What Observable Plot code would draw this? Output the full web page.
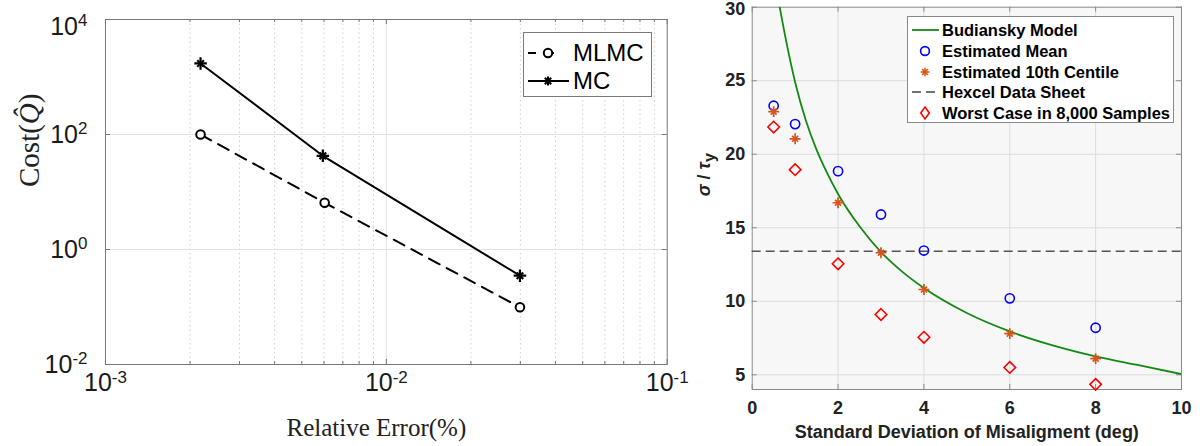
<!DOCTYPE html>
<html><head><meta charset="utf-8">
<script src="https://cdn.jsdelivr.net/npm/d3@7"></script>
<script src="https://cdn.jsdelivr.net/npm/@observablehq/plot@0.6"></script>
<style>
body{margin:0;background:#fff;}
#wrap{position:relative;width:1200px;height:446px;overflow:hidden;background:#fff;}
#left{position:absolute;left:0;top:0;}
#right{position:absolute;left:680px;top:0;}
.legend{position:absolute;background:#fff;box-sizing:border-box;}
.legend .row{position:absolute;left:0;display:flex;align-items:center;white-space:nowrap;}
#legL{font-family:"Liberation Sans",Arial,sans-serif;font-size:24px;color:#000;}
#legR{font-family:"Liberation Sans",Arial,sans-serif;font-size:16.5px;font-weight:bold;color:#000;}
</style></head><body>
<div id="wrap"><div id="left"></div><div id="right"></div>
<div class="legend" id="legL"></div><div class="legend" id="legR"></div></div>
<script>
// ---------- Left panel data ----------
const relErrMLMC = [0.00218, 0.00603, 0.0299];
const costMLMC   = [100, 6.5, 0.099];
const relErrMC   = [0.00218, 0.00594, 0.0299];
const costMC     = [1720, 42.6, 0.35];
const xTicksLeft = [1e-3, 1e-2, 1e-1];
const yTicksLeft = [1e-2, 1e0, 1e2, 1e4];
const xMinorLeft = [2e-3,3e-3,4e-3,5e-3,6e-3,7e-3,8e-3,9e-3,2e-2,3e-2,4e-2,5e-2,6e-2,7e-2,8e-2,9e-2];
const seriesLeft = ["MLMC", "MC"];

// ---------- Right panel data ----------
const misalign   = [0.5, 1, 2, 3, 4, 6, 8];
const estMean    = [23.3, 22.05, 18.85, 15.9, 13.45, 10.2, 8.2];
const est10th    = [22.9, 21.05, 16.7, 13.3, 10.8, 7.8, 6.1];
const worstCase  = [21.85, 18.95, 12.55, 9.1, 7.55, 5.5, 4.35];
const hexcel     = 13.4;
const budX = [0.64, 0.75, 1, 1.25, 1.5, 1.75, 2, 2.5, 3, 3.5, 4, 5, 6, 7, 8, 9, 10];
const budY = [30, 28.3, 24.9, 22.3, 20.3, 18.7, 17.3, 15.1, 13.35, 12.0, 10.9, 9.2, 7.95, 7.0, 6.25, 5.65, 5.05];
const xTicksRight = [0, 2, 4, 6, 8, 10];
const yTicksRight = [5, 10, 15, 20, 25, 30];
const seriesRight = ["Budiansky Model", "Estimated Mean", "Estimated 10th Centile", "Hexcel Data Sheet", "Worst Case in 8,000 Samples"];

// ---------- Build tables ----------
const mlmc = relErrMLMC.map((e, i) => ({err: e, cost: costMLMC[i]}));
const mc = relErrMC.map((e, i) => ({err: e, cost: costMC[i]}));
const meanPts = misalign.map((x, i) => ({x, y: estMean[i]}));
const c10Pts = misalign.map((x, i) => ({x, y: est10th[i]}));
const worstPts = misalign.map((x, i) => ({x, y: worstCase[i]}));
const bud = budX.map((x, i) => ({x, y: budY[i]}));

const GREEN = "#138a13", ORANGE = "#D95319", BLUE = "#0000ff", RED = "#ff0000";

// ---------- Left plot ----------
const LW = 680, LH = 446, LML = 105, LMR = 13.3, LMT = 19, LMB = 82;
const lph = LH - LMT - LMB, lpw = LW - LML - LMR;
const expFmt = d => "10^" + Math.round(Math.log10(d));
const leftPlot = Plot.plot({
  width: LW, height: LH,
  marginLeft: LML, marginRight: LMR, marginTop: LMT, marginBottom: LMB,
  style: {fontFamily: "'Liberation Sans', Arial, sans-serif", background: "transparent", overflow: "visible", color: "#222"},
  x: {type: "log", domain: [1e-3, 1e-1]},
  y: {type: "log", domain: [1e-2, 1e4]},
  marks: [
    Plot.ruleX(xMinorLeft, {stroke: "#c4c4c4", strokeDasharray: "1.5,3", strokeWidth: 0.8}),
    Plot.ruleX([1e-2], {stroke: "#e2e2e2"}),
    Plot.ruleY([1e0, 1e2], {stroke: "#e2e2e2"}),
    Plot.tickX(xMinorLeft, {x: d => d, insetBottom: lph - 3, stroke: "#777"}),
    Plot.tickX(xMinorLeft, {x: d => d, insetTop: lph - 3, stroke: "#777"}),
    Plot.tickX(xTicksLeft, {x: d => d, insetBottom: lph - 5, stroke: "#777"}),
    Plot.tickX(xTicksLeft, {x: d => d, insetTop: lph - 5, stroke: "#777"}),
    Plot.tickY(yTicksLeft, {y: d => d, insetRight: lpw - 5, stroke: "#777"}),
    Plot.tickY(yTicksLeft, {y: d => d, insetLeft: lpw - 5, stroke: "#777"}),
    Plot.frame({stroke: "#777"}),
    Plot.axisX({ticks: xTicksLeft, tickFormat: expFmt, tickSize: 0, tickPadding: 9, fontSize: 25, label: null, fill: "#1a1a1a"}),
    Plot.axisY({ticks: yTicksLeft, tickFormat: expFmt, tickSize: 0, tickPadding: 18, fontSize: 25, label: null, fill: "#1a1a1a"}),
    Plot.line(mlmc, {x: "err", y: "cost", stroke: "#000", strokeWidth: 2, strokeDasharray: "12,8"}),
    Plot.line(mc, {x: "err", y: "cost", stroke: "#000", strokeWidth: 2}),
    Plot.dot(mlmc, {x: "err", y: "cost", symbol: "circle", r: 4.3, stroke: "#000", strokeWidth: 2, fill: "#fff"}),
    Plot.dot(mc, {x: "err", y: "cost", symbol: "plus", r: 4.1, stroke: "#000", strokeWidth: 2.2}),
    Plot.dot(mc, {x: "err", y: "cost", symbol: "times", r: 3.1, stroke: "#000", strokeWidth: 2.2}),
    Plot.text(["Relative Error(%)"], {frameAnchor: "bottom", dy: 71, dx: -10, fontSize: 25, fontFamily: "'Liberation Serif', 'DejaVu Serif', serif", fill: "#222"}),
    Plot.text(["Cost(Q̂)"], {frameAnchor: "left", rotate: -90, dx: -76, dy: -5, fontSize: 29, fontFamily: "'Liberation Serif', 'DejaVu Serif', serif", fill: "#222"})
  ]
});
document.getElementById("left").appendChild(leftPlot);

// ---------- Right plot ----------
const RW = 520, RH = 446, RML = 71.7, RMR = 19, RMT = 6.7, RMB = 57;
const rph = RH - RMT - RMB, rpw = RW - RML - RMR;
const rightPlot = Plot.plot({
  width: RW, height: RH,
  marginLeft: RML, marginRight: RMR, marginTop: RMT, marginBottom: RMB,
  style: {fontFamily: "'Liberation Sans', Arial, sans-serif", background: "transparent", overflow: "visible", color: "#222"},
  x: {domain: [0, 10]},
  y: {domain: [4, 30]},
  marks: [
    Plot.frame({fill: "#f7f7f7", stroke: "none"}),
    Plot.ruleX(xTicksRight.filter(d => d > 0 && d < 10), {stroke: "#dcdcdc"}),
    Plot.ruleY(yTicksRight.filter(d => d < 30), {stroke: "#dcdcdc"}),
    Plot.tickX(xTicksRight, {x: d => d, insetBottom: rph - 5, stroke: "#8a8a8a"}),
    Plot.tickX(xTicksRight, {x: d => d, insetTop: rph - 5, stroke: "#8a8a8a"}),
    Plot.tickY(yTicksRight, {y: d => d, insetRight: rpw - 5, stroke: "#8a8a8a"}),
    Plot.tickY(yTicksRight, {y: d => d, insetLeft: rpw - 5, stroke: "#8a8a8a"}),
    Plot.frame({stroke: "#8a8a8a"}),
    Plot.axisX({ticks: xTicksRight, tickSize: 0, tickPadding: 12, fontSize: 18, fontWeight: "bold", label: null, fill: "#222"}),
    Plot.axisY({ticks: yTicksRight, tickSize: 0, tickPadding: 7, fontSize: 18, fontWeight: "bold", label: null, fill: "#222"}),
    Plot.ruleY([hexcel], {stroke: "#555", strokeWidth: 1.5, strokeDasharray: "9,5"}),
    Plot.line(bud, {x: "x", y: "y", stroke: GREEN, strokeWidth: 1.8, curve: "monotone-x", clip: true}),
    Plot.dot(meanPts, {x: "x", y: "y", symbol: "circle", r: 4.6, stroke: BLUE, strokeWidth: 1.6, fill: "none"}),
    Plot.dot(c10Pts, {x: "x", y: "y", symbol: "plus", r: 3.6, stroke: ORANGE, strokeWidth: 1.7}),
    Plot.dot(c10Pts, {x: "x", y: "y", symbol: "times", r: 2.8, stroke: ORANGE, strokeWidth: 1.7}),
    Plot.dot(worstPts, {x: "x", y: "y", symbol: "diamond2", r: 5.2, stroke: RED, strokeWidth: 1.6, fill: "none"}),
    Plot.text(["Standard Deviation of Misaligment (deg)"], {frameAnchor: "bottom", dy: 48, fontSize: 18, fontWeight: "bold", fill: "#222"}),
    Plot.text(["σ / τy"], {frameAnchor: "left", rotate: -90, dx: -47.7, dy: -2, fontSize: 18, fontWeight: "bold", fill: "#222"})
  ]
});
document.getElementById("right").appendChild(rightPlot);

// ---------- Post-process: superscripts, italic, subscript ----------
function superscripts(svg) {
  d3.select(svg).selectAll("text").each(function () {
    const s = this.textContent;
    if (!/^10\^-?\d+$/.test(s)) return;
    const [b, e] = s.split("^");
    const t = d3.select(this);
    t.text(null);
    t.append("tspan").text(b);
    t.append("tspan").attr("dy", "-0.5em").attr("font-size", "0.68em").text(e);
  });
}
superscripts(leftPlot);
function nudge(svg, content, dx, dy) {
  d3.select(svg).selectAll("text").filter(function(){return this.textContent === content;})
    .each(function(){ const tr = this.getAttribute("transform") || ""; this.setAttribute("transform", tr + ` translate(${dx},${dy})`); });
}
nudge(leftPlot, "104", 0, 7);
nudge(rightPlot, "30", 0, 2);

d3.select(leftPlot).selectAll("text").filter(function(){return this.textContent === "Cost(Q̂)";}).each(function(){
  const t = d3.select(this); t.text(null);
  t.append("tspan").text("Cost(");
  t.append("tspan").attr("font-style", "italic").text("Q̂");
  t.append("tspan").text(")");
});
d3.select(rightPlot).selectAll("text").filter(function(){return this.textContent === "σ / τy";}).each(function(){
  const t = d3.select(this); t.text(null);
  t.append("tspan").attr("font-style", "italic").text("σ");
  t.append("tspan").text(" / ");
  t.append("tspan").attr("font-style", "italic").text("τ");
  t.append("tspan").attr("dy", "0.3em").attr("font-size", "0.9em").text("y");
});

// ---------- Legends ----------
function starSVG(color, h, w) {
  return `<line x1="0" y1="${-h}" x2="0" y2="${h}" stroke="${color}" stroke-width="${w}"/>` +
         `<line x1="${-h}" y1="0" x2="${h}" y2="0" stroke="${color}" stroke-width="${w}"/>` +
         `<line x1="${-h*0.7}" y1="${-h*0.7}" x2="${h*0.7}" y2="${h*0.7}" stroke="${color}" stroke-width="${w}"/>` +
         `<line x1="${-h*0.7}" y1="${h*0.7}" x2="${h*0.7}" y2="${-h*0.7}" stroke="${color}" stroke-width="${w}"/>`;
}
const legL = document.getElementById("legL");
Object.assign(legL.style, {left: "523px", top: "32px", width: "129px", height: "65px", border: "1px solid #7a7a7a"});
const leftSamples = [
  `<line x1="4" y1="14" x2="40" y2="14" stroke="#000" stroke-width="2" stroke-dasharray="8,10"/><circle cx="24" cy="14" r="4.2" stroke="#000" stroke-width="2" fill="#fff"/>`,
  `<line x1="4" y1="14" x2="45" y2="14" stroke="#000" stroke-width="2"/><g transform="translate(24,14)">${starSVG("#000", 4.6, 2)}</g>`
];
const leftRowY = [6, 34];
seriesLeft.forEach((name, i) => {
  const row = document.createElement("div");
  row.className = "row";
  row.style.top = leftRowY[i] + "px";
  row.innerHTML = `<svg width="49" height="28" style="display:block">${leftSamples[i]}</svg><span style="line-height:28px">${name}</span>`;
  legL.appendChild(row);
});

const legR = document.getElementById("legR");
Object.assign(legR.style, {left: "907px", top: "16px", width: "267px", height: "107px", border: "1px solid #8a8a8a"});
const rightSamples = [
  `<line x1="4" y1="10" x2="31" y2="10" stroke="${GREEN}" stroke-width="1.8"/>`,
  `<circle cx="17" cy="10" r="4.4" stroke="${BLUE}" stroke-width="1.6" fill="none"/>`,
  `<g transform="translate(17,10)">${starSVG(ORANGE, 4.3, 1.6)}</g>`,
  `<line x1="4" y1="10" x2="31" y2="10" stroke="#444" stroke-width="1.5" stroke-dasharray="9,5"/>`,
  `<path d="M17,4 L21.3,10 L17,16 L12.7,10 Z" stroke="${RED}" stroke-width="1.6" fill="none"/>`
];
const rightRowY = [13, 34, 55, 75, 96];
seriesRight.forEach((name, i) => {
  const row = document.createElement("div");
  row.className = "row";
  row.style.top = (rightRowY[i] - 10) + "px";
  row.innerHTML = `<svg width="34" height="20" style="display:block">${rightSamples[i]}</svg><span style="line-height:20px">${name}</span>`;
  legR.appendChild(row);
});
</script>
</body></html>
